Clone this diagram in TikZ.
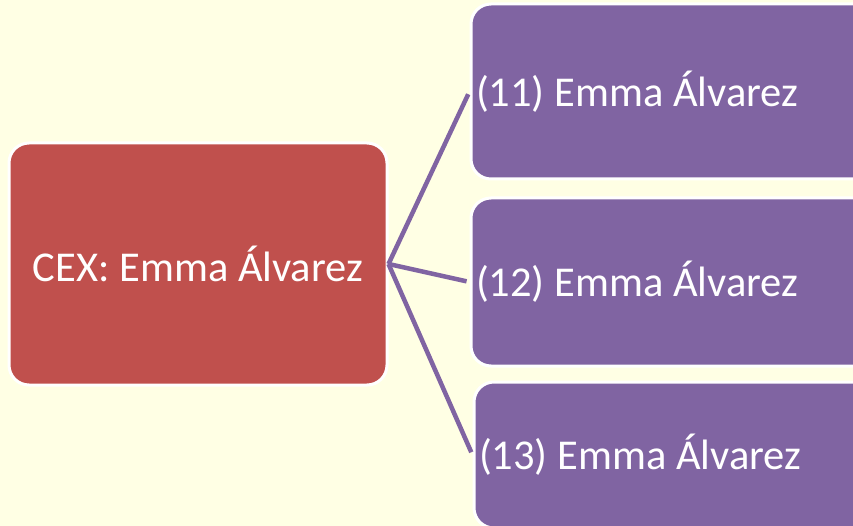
\documentclass[tikz,border=0pt]{standalone}
\usepackage{fontspec}
\setsansfont{Carlito}
\usetikzlibrary{positioning}
\definecolor{paleYellow}{RGB}{255,255,228}
\definecolor{cexRed}{RGB}{192,80,77}
\definecolor{childPurple}{RGB}{128,100,162}
\tikzset{%
  % Specifications for style of nodes:
    base/.style = {rectangle, rounded corners=20pt, draw=white, line width=3pt,
                   text=white, font=\sffamily\fontsize{42.5}{47}\selectfont},
    cexBox/.style = {base, fill=cexRed, minimum width=378pt, minimum height=242pt, align=center},
    childBox/.style = {base, fill=childPurple, minimum width=430pt, text width=420pt,
                   inner xsep=5pt, align=flush left},
}
\begin{document}
\begin{tikzpicture}[x=1pt, y=-1pt]
  \path[use as bounding box, fill=paleYellow] (0,0) rectangle (853,526);
  \clip (0,0) rectangle (853,526);

  \node (cexNode)    [cexBox] at (198,264) {CEX: Emma Álvarez};
  \node (child11)    [childBox, minimum height=175pt] at (686,91.5) {(11) Emma Álvarez};
  \node (child12)    [childBox, minimum height=168pt] at (686,282) {(12) Emma Álvarez};
  \node (child13)    [childBox, minimum height=146pt] at (689,455) {(13) Emma Álvarez};

  % Specification of lines between nodes
  \draw[childPurple, line width=4.5pt, shorten >=3pt]      (cexNode.east) -- (child11.west);
  \draw[childPurple, line width=4.5pt, shorten >=3pt]      (cexNode.east) -- (child12.west);
  \draw[childPurple, line width=4.5pt, shorten >=3pt]      (cexNode.east) -- (child13.west);
\end{tikzpicture}
\end{document}
